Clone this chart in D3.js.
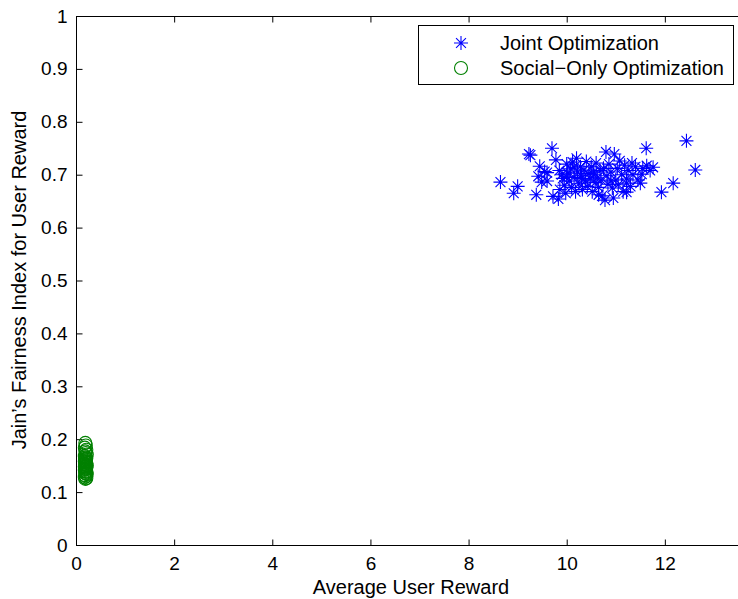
<!DOCTYPE html>
<html>
<head>
<meta charset="utf-8">
<script src="https://cdn.jsdelivr.net/npm/d3@7"></script>
<style>
  html, body { margin: 0; padding: 0; background: #fff; }
  svg { display: block; font-family: "Liberation Sans", Arial, Helvetica, sans-serif; }
</style>
</head>
<body>
<svg id="chart" width="738" height="599"></svg>
<script>
// Joint optimization: average user reward vs. Jain's fairness index
const jointReward = [
  8.65, 8.92, 9.0, 9.23, 9.26, 9.38, 9.45, 9.49, 9.55, 9.42,
  9.6, 9.7, 9.78, 9.72, 9.83, 9.86, 9.85, 9.92, 9.95, 9.98,
  10.0, 10.02, 10.05, 10.08, 10.1, 10.12, 10.15, 10.18, 10.2, 10.22,
  10.25, 10.28, 10.3, 10.32, 10.35, 10.38, 10.4, 10.42, 10.45, 10.48,
  10.5, 10.52, 10.55, 10.58, 10.6, 10.62, 10.65, 10.68, 10.7, 10.72,
  10.75, 10.78, 10.8, 10.82, 10.84, 10.86, 10.9, 10.93, 10.97, 11.0,
  11.03, 11.05, 11.08, 11.12, 11.15, 11.18, 11.22, 11.25, 11.3, 11.35,
  11.4, 11.45, 11.62, 11.55, 11.7, 11.5, 11.93, 12.17, 12.44, 12.62,
  9.6, 10.65, 10.95, 11.22, 11.22, 11.33, 11.63, 11.76, 11.53, 10.0,
  9.9, 10.3, 10.55, 10.15, 10.9
];
const jointFairness = [
  0.686, 0.665, 0.678, 0.739, 0.737, 0.662, 0.716, 0.686, 0.706, 0.697,
  0.704, 0.750, 0.728, 0.659, 0.654, 0.672, 0.708, 0.693, 0.680, 0.665,
  0.720, 0.703, 0.688, 0.711, 0.676, 0.724, 0.695, 0.668, 0.731, 0.705,
  0.683, 0.715, 0.698, 0.672, 0.709, 0.688, 0.725, 0.678, 0.702, 0.692,
  0.715, 0.668, 0.700, 0.685, 0.722, 0.694, 0.676, 0.708, 0.690, 0.660,
  0.712, 0.652, 0.743, 0.698, 0.682, 0.720, 0.705, 0.675, 0.739, 0.690,
  0.712, 0.681, 0.726, 0.700, 0.668, 0.718, 0.692, 0.708, 0.678, 0.700,
  0.715, 0.690, 0.750, 0.712, 0.708, 0.684, 0.667, 0.684, 0.764, 0.709,
  0.688, 0.662, 0.656, 0.667, 0.684, 0.722, 0.717, 0.714, 0.701, 0.696,
  0.700, 0.693, 0.705, 0.714, 0.688
];

// Social-only optimization
const socialReward = [
  0.19, 0.2, 0.18, 0.21, 0.19, 0.2, 0.22, 0.18, 0.19, 0.21,
  0.2, 0.19, 0.18, 0.2, 0.21, 0.19, 0.2, 0.22, 0.19, 0.18,
  0.2, 0.21, 0.19, 0.2, 0.18, 0.19, 0.21, 0.2, 0.19, 0.2,
  0.22, 0.19, 0.2, 0.18, 0.21, 0.19, 0.2, 0.19, 0.21, 0.2
];
const socialFairness = [
  0.193, 0.188, 0.184, 0.180, 0.177, 0.174, 0.171, 0.168, 0.166, 0.164,
  0.162, 0.160, 0.158, 0.156, 0.155, 0.153, 0.152, 0.150, 0.149, 0.148,
  0.147, 0.146, 0.144, 0.143, 0.142, 0.140, 0.139, 0.138, 0.136, 0.135,
  0.134, 0.132, 0.130, 0.128, 0.126, 0.125, 0.157, 0.163, 0.151, 0.145
];

const xTicks = [0, 2, 4, 6, 8, 10, 12];
const yTicks = [0, 0.1, 0.2, 0.3, 0.4, 0.5, 0.6, 0.7, 0.8, 0.9, 1];
const seriesNames = ["Joint Optimization", "Social\u2212Only Optimization"];

const svg = d3.select("#chart");
const plotLeft = 76, plotTop = 16, plotBottom = 545, plotRight = 763;

const x = d3.scaleLinear().domain([0, 14]).range([plotLeft, plotRight]);
const y = d3.scaleLinear().domain([0, 1]).range([plotBottom, plotTop]);

const blue = "#0000ff", green = "#008000";
const tickFont = 19, labelFont = 20;

// axes box lines
svg.append("line").attr("x1", plotLeft).attr("x2", plotRight).attr("y1", plotTop + 0.5).attr("y2", plotTop + 0.5)
  .attr("stroke", "#000");
svg.append("line").attr("x1", plotLeft).attr("x2", plotRight).attr("y1", plotBottom + 0.5).attr("y2", plotBottom + 0.5)
  .attr("stroke", "#000");
svg.append("line").attr("x1", plotLeft + 0.5).attr("x2", plotLeft + 0.5).attr("y1", plotTop).attr("y2", plotBottom)
  .attr("stroke", "#000");

// x axis (ticks inward)
const xAxis = svg.append("g").attr("transform", `translate(0,${plotBottom + 0.5})`)
  .call(d3.axisBottom(x).tickValues(xTicks).tickFormat(d3.format("d")).tickSizeInner(-6).tickSizeOuter(0).tickPadding(11));
xAxis.select(".domain").remove();
xAxis.selectAll("text").attr("font-size", tickFont).attr("fill", "#000").attr("font-family", "Liberation Sans, Arial, sans-serif");

const xTop = svg.append("g").attr("transform", `translate(0,${plotTop + 0.5})`)
  .call(d3.axisTop(x).tickValues(xTicks).tickFormat("").tickSizeInner(-6).tickSizeOuter(0));
xTop.select(".domain").remove();

// y axis (ticks inward)
const yAxis = svg.append("g").attr("transform", `translate(${plotLeft + 0.5},0)`)
  .call(d3.axisLeft(y).tickValues(yTicks).tickFormat(d => d === 0 || d === 1 ? d3.format("d")(d) : d3.format(".1f")(d))
    .tickSizeInner(-6).tickSizeOuter(0).tickPadding(9));
yAxis.select(".domain").remove();
yAxis.selectAll("text").attr("font-size", tickFont).attr("fill", "#000").attr("font-family", "Liberation Sans, Arial, sans-serif");

// axis titles
svg.append("text").attr("x", 411).attr("y", 594).attr("text-anchor", "middle")
  .attr("font-size", labelFont).text("Average User Reward");
svg.append("text").attr("transform", "translate(26,280) rotate(-90)").attr("text-anchor", "middle")
  .attr("font-size", labelFont).text("Jain\u2019s Fairness Index for User Reward");

// asterisk marker path
function starPath(r) {
  const d = r * Math.SQRT1_2;
  return `M${-r},0L${r},0M0,${-r}L0,${r}M${-d},${-d}L${d},${d}M${-d},${d}L${d},${-d}`;
}

const joint = jointReward.map((v, i) => [v, jointFairness[i]]);
const social = socialReward.map((v, i) => [v, socialFairness[i]]);

svg.append("g").selectAll("path").data(joint).join("path")
  .attr("transform", d => `translate(${x(d[0])},${y(d[1])})`)
  .attr("d", starPath(7))
  .attr("fill", "none").attr("stroke", blue).attr("stroke-width", 1.1);

svg.append("g").selectAll("circle").data(social).join("circle")
  .attr("cx", d => x(d[0])).attr("cy", d => y(d[1])).attr("r", 6.5)
  .attr("fill", "none").attr("stroke", green).attr("stroke-width", 1.1);

// legend
const lg = svg.append("g");
lg.append("rect").attr("x", 418.5).attr("y", 25.5).attr("width", 315).attr("height", 59)
  .attr("fill", "#fff").attr("stroke", "#000");
lg.append("path").attr("transform", "translate(461,43)").attr("d", starPath(7))
  .attr("fill", "none").attr("stroke", blue).attr("stroke-width", 1.1);
lg.append("circle").attr("cx", 461).attr("cy", 68).attr("r", 6.5)
  .attr("fill", "none").attr("stroke", green).attr("stroke-width", 1.1);
lg.selectAll("text").data(seriesNames).join("text")
  .attr("x", 500).attr("y", (d, i) => 50 + i * 25)
  .attr("font-size", labelFont).text(d => d);
</script>
</body>
</html>
